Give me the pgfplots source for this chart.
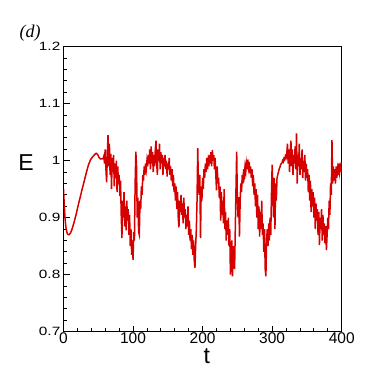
\documentclass[border=0pt]{standalone}
\usepackage{fontspec}
\setmainfont{Liberation Sans}
\newfontfamily\serifit{Liberation Serif}
\usepackage{graphicx}
\usepackage{pgfplots}
\pgfplotsset{compat=1.18}
\definecolor{curvered}{RGB}{214,0,0}
\begin{document}
\begin{tikzpicture}
\path[use as bounding box] (-63.5pt,-42.3pt) rectangle (310.5pt,331.7pt);
\begin{axis}[
  at={(0,0)}, anchor=south west,
  scale only axis, width=278.2pt, height=285pt,
  xmin=0, xmax=400, ymin=0.7, ymax=1.2,
  xtick={0,100,200,300,400}, ytick={0.7,0.8,0.9,1,1.1,1.2},
  minor x tick num=4, minor y tick num=4,
  tick pos=left, tick align=inside,
  major tick length=6pt, minor tick length=3.5pt,
  every tick/.style={black, line width=0.9pt},
  axis line style={line width=1.1pt},
  /pgf/number format/assume math mode=true,
  xticklabel style={font=\fontsize{15.5}{15.5}\selectfont, inner sep=1pt},
  yticklabel style={font=\fontsize{12}{12}\selectfont, inner sep=1pt, xshift=-2pt},
  yticklabel={\scalebox{1.28}[1]{\pgfmathprintnumber[fixed,precision=1]{\tick}}},
  clip=true,
]
\addplot[curvered, line width=1.5pt] coordinates {
(0,0.950)(1,0.925)(2,0.903)(3,0.888)(4,0.879)(5,0.874)(6,0.871)(8,0.870)(10,0.873)
(12,0.879)(15,0.891)(18,0.905)(21,0.921)(24,0.936)(27,0.951)(30,0.965)(33,0.980)
(36,0.993)(39,1.002)(42,1.007)(45,1.011)(47,1.013)(49,1.011)(51,1.006)(53,1.003)
(55,1.003)(57,1.004)(58,1.008)
(59,0.995)(60,1.020)(61,0.985)(62,0.962)(63,1.010)(64,1.045)(65,0.990)(66,1.030)
(67,0.975)(68,1.012)(69,0.950)(70,1.005)(71,0.980)(72,1.010)(73,0.955)(74,0.995)
(75,0.970)(76,1.000)(77,0.945)(78,0.990)(79,0.960)(80,0.975)(81,0.938)(82,0.965)
(83,0.905)(84,0.864)(85,0.930)(86,0.900)(87,0.945)(88,0.885)(89,0.920)(90,0.878)
(91,0.930)(92,0.895)(93,0.915)(94,0.870)(95,0.905)(96,0.850)(97,0.880)(98,0.835)
(99,0.860)(100,0.826)(101,0.875)(102,0.860)(103,0.960)(104,1.016)(105,0.990)
(106,0.900)(107,0.935)(108,0.875)(109,0.870)(110,0.930)(111,0.915)(112,0.955)
(113,0.940)(114,0.975)(115,0.965)(116,0.990)(117,0.975)(118,0.995)(119,0.985)
(120,1.000)(121,0.990)(122,1.010)(123,0.995)(124,1.020)(125,0.985)(126,1.025)
(127,0.995)(128,1.015)(129,0.980)(130,1.010)(131,0.990)(132,1.020)(133,1.035)
(134,0.995)(135,0.975)(136,1.020)(137,1.000)(138,1.030)(139,0.985)(140,1.015)
(141,0.995)(142,1.010)(143,0.975)(144,1.005)(145,0.990)(146,1.010)(147,0.985)
(148,1.000)(149,0.972)(150,0.995)(151,0.985)(152,1.005)(153,0.975)(154,0.990)
(155,0.965)(156,0.985)(157,0.955)(158,0.975)(159,0.945)(160,0.960)(161,0.930)
(162,0.955)(163,0.915)(164,0.945)(165,0.900)(166,0.883)(167,0.930)(168,0.910)
(169,0.940)(170,0.905)(171,0.925)(172,0.890)(173,0.935)(174,0.900)(175,0.915)
(176,0.880)(177,0.905)(178,0.885)(179,0.920)(180,0.870)(181,0.895)(182,0.860)
(183,0.880)(184,0.845)(185,0.870)(186,0.835)(187,0.860)(188,0.825)(189,0.812)
(190,0.850)(191,0.880)(192,0.930)(193,1.022)(194,0.960)(195,0.940)(196,0.975)
(197,0.864)(198,0.955)(199,0.930)(200,0.970)(201,0.950)(202,0.985)(203,0.970)
(204,0.995)(205,0.980)(206,1.005)(207,0.985)(208,1.000)(209,0.990)(210,1.010)
(211,0.995)(212,1.015)(213,0.990)(214,1.019)(215,1.000)(216,1.010)(217,0.985)
(218,1.005)(219,0.975)(220,0.948)(221,0.990)(222,0.960)(223,0.970)(224,0.935)
(225,0.955)(226,0.895)(227,0.945)(228,0.905)(229,0.930)(230,0.890)(231,0.950)
(232,0.880)(233,0.910)(234,0.860)(235,0.895)(236,0.870)(237,0.900)(238,0.850)
(239,0.880)(240,0.800)(241,0.840)(242,0.860)(243,0.797)(244,0.850)(245,0.820)
(246,0.810)(247,0.880)(248,0.950)(249,1.016)(250,0.930)(251,0.900)(252,0.936)
(253,0.867)(254,0.930)(255,0.960)(256,0.945)(257,0.975)(258,0.960)(259,0.985)
(260,0.975)(261,0.990)(262,0.980)(263,0.995)(264,0.985)(265,1.002)(266,0.988)
(267,0.998)(268,0.978)(269,0.990)(270,0.970)(271,0.985)(272,0.955)(273,0.975)
(274,0.940)(275,0.960)(276,0.920)(277,0.950)(278,0.900)(279,0.940)(280,0.880)
(281,0.920)(282,0.867)(283,0.910)(284,0.880)(285,0.930)(286,0.870)(287,0.890)
(288,0.840)(289,0.880)(290,0.810)(291,0.797)(292,0.860)(293,0.880)(294,0.850)
(295,0.890)(296,0.860)(297,0.900)(298,0.870)(299,0.940)(300,0.993)(301,0.950)
(302,0.900)(303,0.970)(304,0.880)(305,0.960)(306,0.930)(307,0.970)(308,0.975)
(309,0.980)(310,0.985)(311,0.988)(312,0.992)(313,0.995)(314,0.996)(315,1.000)
(316,0.998)(317,1.004)(318,1.002)(319,1.008)(320,1.005)(321,1.012)(322,1.030)
(323,0.995)(324,1.020)(325,0.980)(326,1.015)(327,1.035)(328,0.990)(329,1.020)
(330,0.975)(331,1.010)(332,0.995)(333,1.025)(334,0.985)(335,1.048)(336,0.960)
(337,1.010)(338,0.990)(339,1.030)(340,0.975)(341,1.005)(342,0.985)(343,1.020)
(344,0.970)(345,1.000)(346,0.980)(347,1.010)(348,0.965)(349,0.995)(350,0.970)
(351,0.985)(352,0.945)(353,0.975)(354,0.930)(355,0.965)(356,0.910)(357,0.950)
(358,0.920)(359,0.945)(360,0.900)(361,0.935)(362,0.880)(363,0.925)(364,0.895)
(365,0.915)(366,0.870)(367,0.910)(368,0.852)(369,0.900)(370,0.880)(371,0.915)
(372,0.860)(373,0.905)(374,0.870)(375,0.890)(376,0.855)(377,0.885)(378,0.843)
(379,0.870)(380,0.900)(381,0.880)(382,0.930)(383,0.905)(384,0.960)(385,0.940)
(386,1.036)(387,0.960)(388,0.990)(389,0.965)(390,0.985)(391,0.960)(392,0.990)
(393,0.970)(394,0.985)(395,0.975)(396,0.995)(397,0.980)(398,0.990)(399,0.985)
(400,0.998)
};
\end{axis}
\node[font=\fontsize{23}{23}\selectfont, inner sep=0pt] at (-37.5pt,168.7pt) {E};
\node[font=\fontsize{23}{23}\selectfont, inner sep=0pt] at (143.2pt,-24.8pt) {t};
\node[font=\serifit\itshape\fontsize{18}{18}\selectfont, anchor=west, inner sep=0pt] at (-44pt,299pt) {(d)};
\end{tikzpicture}
\end{document}
